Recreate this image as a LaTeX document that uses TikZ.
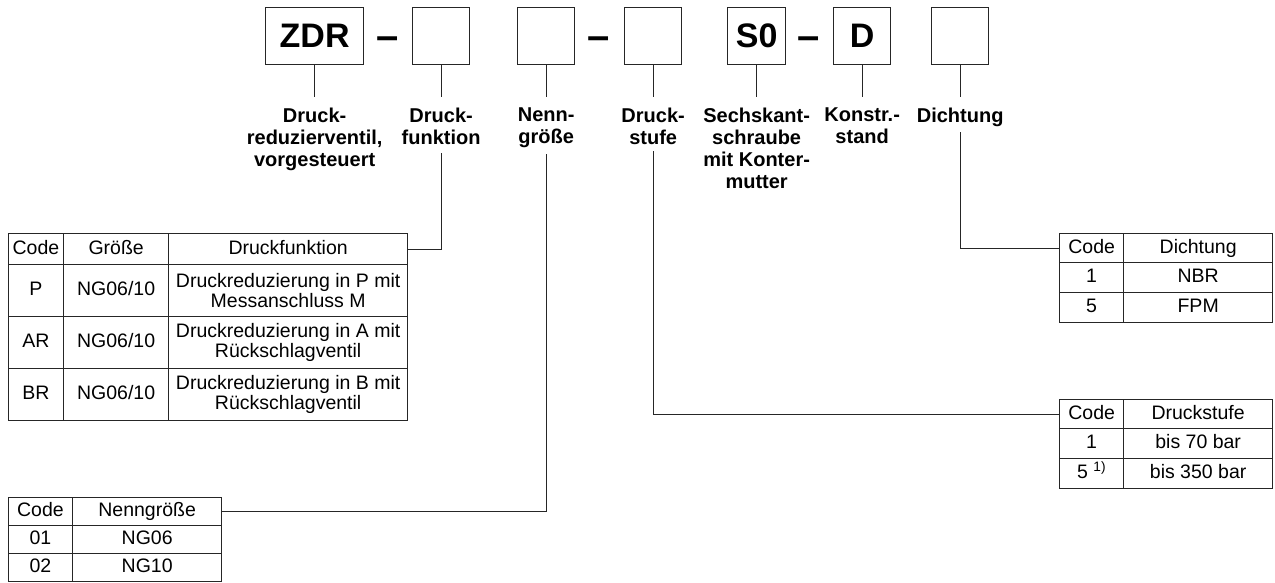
\documentclass[tikz,border=0pt]{standalone}
\usepackage{fontspec}
\setmainfont{Liberation Sans}
\newcommand\tcell[6]{\node[cell, text height=14pt, text depth=4pt, minimum width={(#4)-(#2)}, minimum height={(#5)-(#3)}] (#1) at (#2,#3) {#6};}
\newcommand\tcellm[6]{\node[cell, minimum width={(#4)-(#2)}, minimum height={(#5)-(#3)}] (#1) at (#2,#3) {#6};}
\begin{document}
\begin{tikzpicture}[x=1pt,y=-1pt,
  ln/.style={draw=black!85, line width=1.3pt},
  topbox/.style={ln, minimum height=57pt, inner sep=0pt, anchor=north west, font=\fontsize{34}{36}\selectfont\bfseries},
  dashtxt/.style={anchor=base, inner sep=0pt, font=\fontsize{40}{40}\selectfont\bfseries},
  lbl/.style={anchor=north, align=center, inner sep=0pt, font=\fontsize{20}{22}\selectfont\bfseries},
  cell/.style={ln, anchor=north west, inner sep=0pt, align=center, font=\fontsize{19.5}{20}\selectfont},
]
\useasboundingbox (0,0) rectangle (1275,582);

% top code boxes
\node[topbox, minimum width=98pt] (b1) at (265,7) {ZDR};
\node[topbox, minimum width=57pt] (b2) at (412,7) {};
\node[topbox, minimum width=57pt] (b3) at (517,7) {};
\node[topbox, minimum width=57pt] (b4) at (624,7) {};
\node[topbox, minimum width=58pt] (b5) at (727,7) {S0};
\node[topbox, minimum width=57pt] (b6) at (833,7) {D};
\node[topbox, minimum width=57pt] (b7) at (931,7) {};

\node[dashtxt] (d1) at (387.5,49) {–};
\node[dashtxt] (d2) at (599,49) {–};
\node[dashtxt] (d3) at (809,49) {–};

% labels
\node[lbl] (l1) at (b1.south |- 0,108) {Druck-\\reduzierventil,\\vorgesteuert};
\node[lbl] (l2) at (b2.south |- 0,108) {Druck-\\funktion};
\node[lbl] (l3) at (b3.south |- 0,108) {Nenn-\\größe};
\node[lbl] (l4) at (b4.south |- 0,108) {Druck-\\stufe};
\node[lbl] (l5) at (b5.south |- 0,108) {Sechskant-\\schraube\\mit Konter-\\mutter};
\node[lbl] (l6) at (b6.south |- 0,108) {Konstr.-\\stand};
\node[lbl] (l7) at (b7.south |- 0,108) {Dichtung};

\foreach \b in {b1,b2,b3,b4,b5,b6,b7}
  \draw[ln] (\b.south) -- (\b.south |- 0,97);

% table: Druckfunktion
\tcell{ta1}{7.5}{233}{63}{264}{Code}
\tcell{ta2}{63}{233}{168}{264}{Größe}
\tcell{ta3}{168}{233}{407}{264}{Druckfunktion}
\tcell{tb1}{7.5}{264}{63}{316}{P}
\tcell{tb2}{63}{264}{168}{316}{NG06/10}
\tcellm{tb3}{168}{264}{407}{316}{Druckreduzierung in P mit\\Messanschluss M}
\tcell{tc1}{7.5}{316}{63}{368}{AR}
\tcell{tc2}{63}{316}{168}{368}{NG06/10}
\tcellm{tc3}{168}{316}{407}{368}{Druckreduzierung in A mit\\Rückschlagventil}
\tcell{td1}{7.5}{368}{63}{420}{BR}
\tcell{td2}{63}{368}{168}{420}{NG06/10}
\tcellm{td3}{168}{368}{407}{420}{Druckreduzierung in B mit\\Rückschlagventil}

% table: Nenngroesse
\tcell{na1}{7.5}{497}{72}{525}{Code}
\tcell{na2}{72}{497}{221}{525}{Nenngröße}
\tcell{nb1}{7.5}{525}{72}{553}{01}
\tcell{nb2}{72}{525}{221}{553}{NG06}
\tcell{nc1}{7.5}{553}{72}{581}{02}
\tcell{nc2}{72}{553}{221}{581}{NG10}

% table: Druckstufe
\tcell{sa1}{1059}{399}{1123}{428}{Code}
\tcell{sa2}{1123}{399}{1272}{428}{Druckstufe}
\tcell{sb1}{1059}{428}{1123}{458}{1}
\tcell{sb2}{1123}{428}{1272}{458}{bis 70 bar}
\tcell{sc1}{1059}{458}{1123}{488}{5 \textsuperscript{1)}}
\tcell{sc2}{1123}{458}{1272}{488}{bis 350 bar}

% table: Dichtung
\tcell{ea1}{1059}{233}{1123}{262}{Code}
\tcell{ea2}{1123}{233}{1272}{262}{Dichtung}
\tcell{eb1}{1059}{262}{1123}{292}{1}
\tcell{eb2}{1123}{262}{1272}{292}{NBR}
\tcell{ec1}{1059}{292}{1123}{322}{5}
\tcell{ec2}{1123}{292}{1272}{322}{FPM}

% connectors from labels to tables
\coordinate (c2) at (b2.south |- 0,153);
\coordinate (c3) at (b3.south |- 0,154);
\coordinate (c4) at (b4.south |- 0,151);
\coordinate (c7) at (b7.south |- 0,132);
\draw[ln] (c2) |- (ta3.east);
\draw[ln] (c3) |- (na2.east);
\draw[ln] (c4) |- (sa1.west);
\draw[ln] (c7) |- (ea1.west);
\end{tikzpicture}
\end{document}
